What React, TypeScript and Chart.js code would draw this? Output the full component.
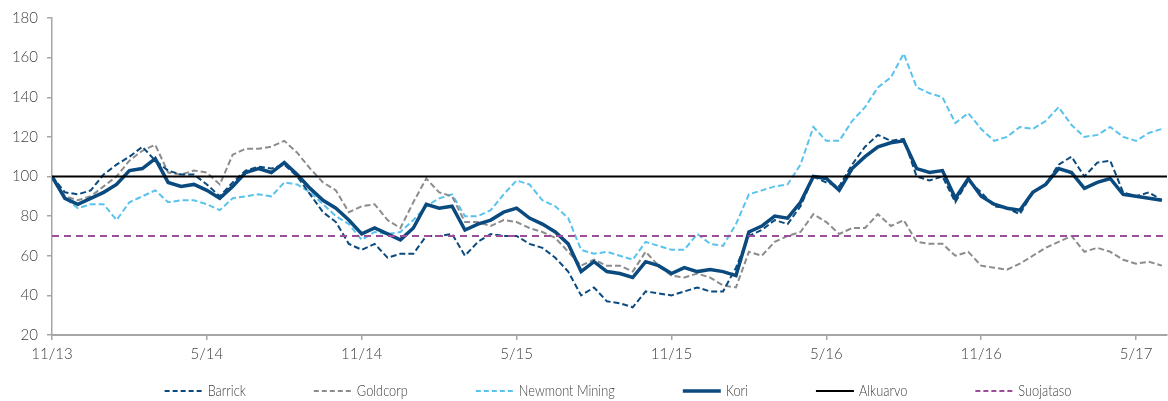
import React, { useEffect, useRef } from 'react';
import { Chart, registerables } from 'chart.js';

Chart.register(...registerables);

// ---- data (one point every half month from 11/2013) ----
const STEP_MONTHS = 0.5;
const X_MAX = 43.2;
const tickMonths = [0, 6, 12, 18, 24, 30, 36, 42];
const tickLabels = ['11/13', '5/14', '11/14', '5/15', '11/15', '5/16', '11/16', '5/17'];
const yTicks = [20, 40, 60, 80, 100, 120, 140, 160, 180];

const barrick = [
  100, 92, 91, 93, 101, 106, 110, 115, 108, 103, 101, 101, 96, 90, 97, 103, 105, 104, 106, 100,
  91, 82, 77, 66, 63, 66, 59, 61, 61, 70, 70, 71, 60, 67, 71, 70, 70, 66, 64, 59,
  52, 40, 44, 37, 36, 34, 42, 41, 40, 42, 44, 42, 42, 54, 70, 73, 78, 76, 85, 100,
  97, 95, 106, 115, 121, 118, 119, 100, 98, 100, 87, 98, 92, 85, 84, 81, 92, 96, 106, 110,
  100, 107, 108, 92, 90, 92, 88,
];

const goldcorp = [
  100, 90, 88, 90, 95, 100, 108, 113, 116, 102, 101, 103, 102, 96, 111, 114, 114, 115, 118, 112,
  104, 97, 93, 82, 85, 86, 78, 74, 87, 99, 92, 90, 77, 77, 75, 78, 77, 74, 72, 69,
  62, 55, 58, 55, 55, 52, 62, 55, 50, 49, 51, 49, 45, 44, 62, 60, 67, 70, 72, 81,
  77, 71, 74, 74, 81, 75, 78, 67, 66, 66, 60, 62, 55, 54, 53, 56, 60, 64, 67, 70,
  62, 64, 62, 58, 56, 57, 55,
];

const newmont = [
  100, 89, 84, 86, 86, 78, 87, 90, 93, 87, 88, 88, 86, 83, 89, 90, 91, 90, 97, 96,
  92, 86, 80, 76, 68, 72, 71, 72, 78, 85, 89, 91, 80, 80, 83, 91, 98, 96, 88, 85,
  79, 63, 61, 62, 60, 58, 67, 65, 63, 63, 71, 66, 65, 76, 91, 93, 95, 96, 106, 125,
  118, 118, 128, 135, 145, 150, 162, 145, 142, 140, 127, 132, 124, 118, 120, 125, 124, 128, 135, 126,
  120, 121, 125, 120, 118, 122, 124,
];

const kori = [
  100, 89, 86, 89, 92, 96, 103, 104, 109, 97, 95, 96, 93, 89, 95, 102, 104, 102, 107, 101,
  94, 88, 84, 78, 71, 74, 71, 68, 74, 86, 84, 85, 73, 76, 78, 82, 84, 79, 76, 72,
  66, 52, 57, 52, 51, 49, 57, 55, 51, 54, 52, 53, 52, 50, 72, 75, 80, 79, 87, 100,
  99, 93, 104, 110, 115, 117, 118, 104, 102, 103, 89, 99, 90, 86, 84, 83, 92, 96, 104, 102,
  94, 97, 99, 91, 90, 89, 88,
];

const alkuarvo = 100;
const suojataso = 70;

// ---- styles ----
const DARK_BLUE = '#0a4a7f';
const GREY = '#8c8c8c';
const LIGHT_BLUE = '#59c3ee';
const BLACK = '#000000';
const PURPLE = '#9c4f98';
const AXIS = '#a6a6a6';
const TEXT = '#404040';
const TICK_FONT = { family: 'Lato, "Open Sans", sans-serif', size: 15, weight: '300' };

const toPoints = (arr: number[]) => arr.map((v, i) => ({ x: i * STEP_MONTHS, y: v }));
const flat = (v: number) => [
  { x: 0, y: v },
  { x: X_MAX, y: v },
];

const legendItems = [
  { label: 'Barrick', color: DARK_BLUE, dash: [5, 3], width: 2 },
  { label: 'Goldcorp', color: GREY, dash: [5, 3], width: 2 },
  { label: 'Newmont Mining', color: LIGHT_BLUE, dash: [5, 3], width: 2 },
  { label: 'Kori', color: DARK_BLUE, dash: [], width: 3.5 },
  { label: 'Alkuarvo', color: BLACK, dash: [], width: 2 },
  { label: 'Suojataso', color: PURPLE, dash: [5, 3], width: 2 },
];

const customLegend = {
  id: 'customLegend',
  afterDraw(chart: any) {
    const { ctx } = chart;
    ctx.save();
    ctx.font = '300 16px Lato, "Open Sans", sans-serif';
    ctx.textBaseline = 'middle';
    ctx.textAlign = 'left';
    const squeeze = 0.8;
    const lineLen = 38;
    const gap = 5;
    const spacing = 68;
    const widths = legendItems.map((it) => lineLen + gap + ctx.measureText(it.label).width * squeeze);
    const total = widths.reduce((a, b) => a + b, 0) + spacing * (legendItems.length - 1);
    const centerX = 618;
    const y = 391;
    let x = centerX - total / 2;
    legendItems.forEach((it, i) => {
      ctx.beginPath();
      ctx.setLineDash(it.dash);
      ctx.lineWidth = it.width;
      ctx.strokeStyle = it.color;
      ctx.moveTo(x, y);
      ctx.lineTo(x + lineLen, y);
      ctx.stroke();
      ctx.setLineDash([]);
      ctx.save();
      ctx.translate(x + lineLen + gap, y);
      ctx.scale(squeeze, 1);
      ctx.fillStyle = TEXT;
      ctx.fillText(it.label, 0, 0);
      ctx.restore();
      x += widths[i] + spacing;
    });
    ctx.restore();
  },
};

export default function App() {
  const canvasRef = useRef<HTMLCanvasElement | null>(null);

  useEffect(() => {
    if (!canvasRef.current) return;
    const lineBase = {
      pointRadius: 0,
      pointHoverRadius: 0,
      fill: false,
      tension: 0,
    };
    const chart = new Chart(canvasRef.current, {
      type: 'line',
      data: {
        datasets: [
          { ...lineBase, label: 'Barrick', data: toPoints(barrick), borderColor: DARK_BLUE, borderWidth: 2, borderDash: [6, 3], order: 3 },
          { ...lineBase, label: 'Goldcorp', data: toPoints(goldcorp), borderColor: GREY, borderWidth: 2, borderDash: [6, 3], order: 4 },
          { ...lineBase, label: 'Newmont Mining', data: toPoints(newmont), borderColor: LIGHT_BLUE, borderWidth: 2, borderDash: [6, 3], order: 5 },
          { ...lineBase, label: 'Kori', data: toPoints(kori), borderColor: DARK_BLUE, borderWidth: 3.5, order: 2 },
          { ...lineBase, label: 'Alkuarvo', data: flat(alkuarvo), borderColor: BLACK, borderWidth: 2, order: 0 },
          { ...lineBase, label: 'Suojataso', data: flat(suojataso), borderColor: PURPLE, borderWidth: 2, borderDash: [7, 5], order: 1 },
        ],
      },
      options: {
        responsive: false,
        animation: false,
        layout: { padding: { top: 16, right: 1, bottom: 0, left: 0 } },
        plugins: {
          legend: { display: false },
          tooltip: { enabled: false },
        },
        scales: {
          x: {
            type: 'linear',
            min: 0,
            max: X_MAX,
            afterBuildTicks: (scale: any) => {
              scale.ticks = tickMonths.map((v) => ({ value: v }));
            },
            afterFit: (scale: any) => {
              scale.height = 66;
            },
            ticks: {
              autoSkip: false,
              maxRotation: 0,
              padding: 5,
              color: TEXT,
              font: TICK_FONT,
              callback: (value: any) => {
                const idx = tickMonths.indexOf(Number(value));
                return idx >= 0 ? tickLabels[idx] : '';
              },
            },
            grid: { display: true, drawOnChartArea: false, drawTicks: true, tickLength: 5, color: AXIS, lineWidth: 1.5 },
            border: { display: true, color: AXIS, width: 2 },
          },
          y: {
            min: 20,
            max: 180,
            afterBuildTicks: (scale: any) => {
              scale.ticks = yTicks.map((v) => ({ value: v }));
            },
            afterFit: (scale: any) => {
              scale.width = 52;
            },
            ticks: {
              padding: 9,
              color: TEXT,
              font: TICK_FONT,
            },
            grid: { display: true, drawOnChartArea: false, drawTicks: true, tickLength: 5, color: AXIS, lineWidth: 1.5 },
            border: { display: true, color: AXIS, width: 1.5 },
          },
        },
      },
      plugins: [customLegend],
    });
    return () => chart.destroy();
  }, []);

  return (
    <div style={{ position: 'fixed', left: 0, top: 0, width: 1168, height: 401, background: '#ffffff' }}>
      <canvas ref={canvasRef} width={1168} height={401} />
    </div>
  );
}
